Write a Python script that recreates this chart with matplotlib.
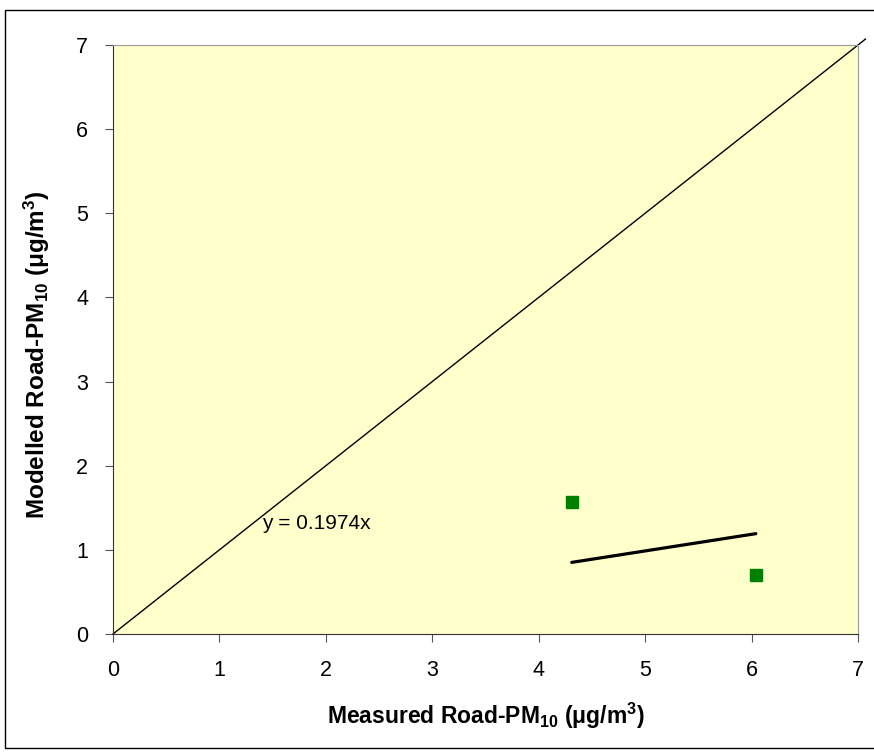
import numpy as np
import matplotlib
matplotlib.use("Agg")
import matplotlib.pyplot as plt
from matplotlib.patches import Rectangle

plt.rcParams["font.family"] = ["Liberation Sans", "DejaVu Sans"]
plt.rcParams["mathtext.fontset"] = "custom"
plt.rcParams["mathtext.rm"] = "Liberation Sans:bold"
plt.rcParams["mathtext.default"] = "rm"

# Data
measured = [4.31, 6.04]
modelled = [1.57, 0.70]
slope = 0.1974
ticks = [0, 1, 2, 3, 4, 5, 6, 7]

fig = plt.figure(figsize=(8.74, 7.56), dpi=100)
ax = fig.add_axes([0.1293, 0.1614, 0.8524, 0.7791])
ax.set_facecolor("#FFFFCC")

# 1:1 line
ax.plot([0, 7.07], [0, 7.07], color="black", linewidth=1.0, clip_on=False, zorder=2)

# trendline through origin over data range
tx = np.array([min(measured), max(measured)])
ax.plot(tx, slope * tx, color="black", linewidth=2.3, solid_capstyle="round", zorder=3)

ax.plot(measured, modelled, linestyle="none", marker="s", markersize=8,
        color="#008000", zorder=4)

ax.text(1.40, 1.31, f"y = {slope}x", fontsize=15, va="center", ha="left")

ax.set_xlim(0, 7)
ax.set_ylim(0, 7)
ax.set_xticks(ticks)
ax.set_yticks(ticks)
ax.tick_params(direction="out", length=6, labelsize=15.5, color="#555555")
ax.tick_params(axis="x", pad=13)
ax.tick_params(axis="y", pad=12)

for side in ["top", "right"]:
    ax.spines[side].set_color("#999999")
for side in ["left", "bottom"]:
    ax.spines[side].set_color("#333333")

ax.set_xlabel("Measured Road-PM$_{10}$ ($\\mu$g/m$^{3}$)", fontsize=16.5,
              fontweight="bold", labelpad=14)
ax.set_ylabel("Modelled Road-PM$_{10}$ ($\\mu$g/m$^{3}$)", fontsize=17.5,
              fontweight="bold")
ax.yaxis.set_label_coords(-0.082, 0.475)

# outer chart frame
fig.patches.append(Rectangle((0.0057, 0.0106), 1.1, 0.976, transform=fig.transFigure,
                             fill=False, edgecolor="black", linewidth=1.0))

fig.savefig("out.png", dpi=100)
